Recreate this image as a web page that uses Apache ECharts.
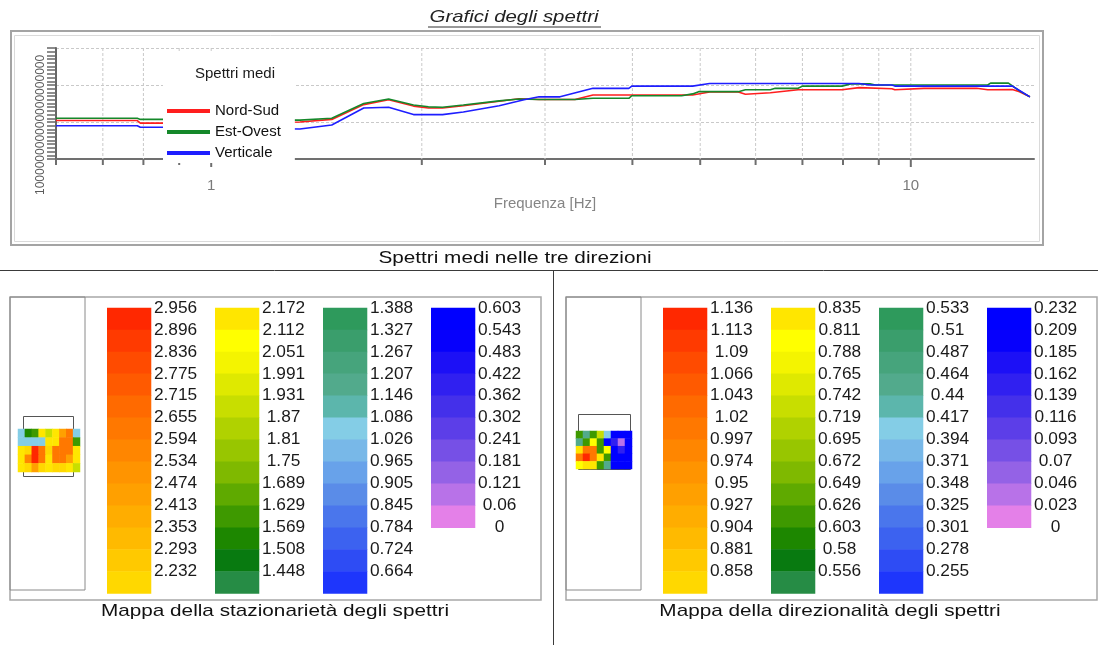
<!DOCTYPE html>
<html>
<head>
<meta charset="utf-8">
<title>Grafici degli spettri</title>
<script src="https://cdn.jsdelivr.net/npm/echarts@6.0.0/dist/echarts.min.js"></script>
<style>
  html, body { margin: 0; padding: 0; background: #fff; }
  #chart { width: 1098px; height: 645px; }
</style>
</head>
<body>
<div id="chart"></div>
<script>
// ---- Spettri medi: [frequenza Hz, ampiezza] ----
const nordSud = [
  [0.6, 1.04], [0.784, 1.04], [0.792, 0.97], [0.854, 0.97],
  [1.339, 1.00], [1.487, 1.07], [1.652, 1.47], [1.793, 1.60], [1.946, 1.43],
  [2.044, 1.38], [2.141, 1.38], [2.293, 1.44], [2.58, 1.56], [2.755, 1.63],
  [2.942, 1.61], [3.311, 1.61], [3.513, 1.73], [4.876, 1.73], [5.157, 1.81],
  [5.67, 1.81], [5.802, 1.75], [6.298, 1.79], [6.902, 1.87], [7.975, 1.87],
  [8.433, 1.93], [9.397, 1.90], [9.489, 1.87], [10.44, 1.91], [12.42, 1.91],
  [12.88, 1.87], [13.97, 1.88], [14.3, 1.82], [14.8, 1.68]
];
const estOvest = [
  [0.6, 1.10], [0.784, 1.10], [0.792, 1.07], [0.854, 1.07],
  [1.339, 1.05], [1.487, 1.10], [1.652, 1.50], [1.793, 1.62], [1.946, 1.46],
  [2.044, 1.41], [2.141, 1.40], [2.293, 1.46], [2.58, 1.57], [2.755, 1.62],
  [2.942, 1.61], [3.311, 1.61], [3.513, 1.64], [3.953, 1.64], [3.992, 1.71],
  [4.703, 1.71], [4.876, 1.76], [4.974, 1.82], [5.67, 1.82], [5.802, 1.87],
  [6.298, 1.87], [6.4, 1.91], [6.902, 1.91], [7.0, 1.97], [7.975, 1.97],
  [8.2, 2.03], [8.74, 2.03], [8.9, 2.00], [12.88, 2.00], [13.0, 2.05],
  [13.79, 2.05], [14.3, 1.84], [14.8, 1.68]
];
const verticale = [
  [0.6, 0.90], [0.784, 0.90], [0.792, 0.86], [0.854, 0.86],
  [1.339, 0.81], [1.487, 0.92], [1.652, 1.38], [1.793, 1.40], [1.946, 1.20],
  [2.141, 1.20], [2.293, 1.27], [2.58, 1.44], [2.8, 1.60], [2.942, 1.68],
  [3.152, 1.68], [3.513, 1.91], [3.953, 1.91], [3.992, 1.97], [4.876, 1.97],
  [5.157, 2.04], [8.433, 2.04], [8.74, 2.00], [9.397, 2.00], [9.489, 1.97],
  [13.97, 1.97], [14.3, 1.85], [14.8, 1.68]
];
const seriesNames = ['Nord-Sud', 'Est-Ovest', 'Verticale'];

// frequency ticks of the log axis (labels only on decades)
const freqTicks = [0.6, 0.7, 0.8, 0.9, 1, 2, 3, 4, 5, 6, 7, 8, 9, 10];

// ---- Scale di colore: valori delle soglie ----
const stationarityLevels = [
  2.956, 2.896, 2.836, 2.775, 2.715, 2.655, 2.594, 2.534, 2.474, 2.413, 2.353, 2.293, 2.232,
  2.172, 2.112, 2.051, 1.991, 1.931, 1.87, 1.81, 1.75, 1.689, 1.629, 1.569, 1.508, 1.448,
  1.388, 1.327, 1.267, 1.207, 1.146, 1.086, 1.026, 0.965, 0.905, 0.845, 0.784, 0.724, 0.664,
  0.603, 0.543, 0.483, 0.422, 0.362, 0.302, 0.241, 0.181, 0.121, 0.06, 0
];
const directionLevels = [
  1.136, 1.113, 1.09, 1.066, 1.043, 1.02, 0.997, 0.974, 0.95, 0.927, 0.904, 0.881, 0.858,
  0.835, 0.811, 0.788, 0.765, 0.742, 0.719, 0.695, 0.672, 0.649, 0.626, 0.603, 0.58, 0.556,
  0.533, 0.51, 0.487, 0.464, 0.44, 0.417, 0.394, 0.371, 0.348, 0.325, 0.301, 0.278, 0.255,
  0.232, 0.209, 0.185, 0.162, 0.139, 0.116, 0.093, 0.07, 0.046, 0.023, 0
];

// ---- Mappe (miniature) ----
const stationarityMap = [
  [1.05, 1.52, 1.62, 2.12, 1.92, 2.12, 2.45, 2.62, 1.05],
  [1.05, 1.08, 1.06, 1.05, 2.12, 2.15, 2.60, 2.62, 1.62],
  [2.12, 2.20, 2.93, 2.62, 2.20, 2.60, 2.62, 2.62, 2.12],
  [2.12, 2.55, 2.93, 2.62, 2.15, 2.60, 2.62, 2.45, 2.12],
  [2.12, 2.20, 2.45, 2.20, 2.12, 2.20, 2.20, 2.12, 1.92]
];
const directionMap = [
  [0.62, 0.46, 0.62, 0.74, 0.40, 0.22, 0.22, 0.22],
  [0.46, 0.62, 0.80, 0.62, 0.22, 0.15, 0.04, 0.22],
  [0.82, 1.00, 1.00, 0.62, 0.80, 0.22, 0.15, 0.22],
  [1.00, 1.12, 1.00, 0.82, 0.62, 0.22, 0.22, 0.22],
  [0.80, 0.82, 0.82, 0.62, 0.46, 0.22, 0.22, 0.22]
];

// colour of each band, from the top of the first column to the bottom of the last
const PALETTE = [
  '#ff2800', '#ff3a00', '#ff4b00', '#ff5a00', '#ff6a00', '#ff7800', '#ff8600',
  '#ff9400', '#ffa000', '#ffad00', '#ffba00', '#ffc900', '#ffd800',
  '#ffe600', '#ffff00', '#f4f400', '#dfe900', '#c8de00', '#b0d200', '#98c600',
  '#7fb900', '#5faa00', '#3e9900', '#1d8700', '#087a10', '#268c45',
  '#2e9a5c', '#3a9e6c', '#46a47c', '#52aa8c', '#5cb6ac', '#84cde6', '#78b8e8',
  '#68a2ea', '#5a8ce8', '#4a76ec', '#3c62f0', '#2e4cf4', '#1e36fc',
  '#0000ff', '#0600fc', '#1c10f6', '#3020f0', '#4430ea', '#5c3ee8', '#7650e6',
  '#9462e6', '#b872e8', '#e480e8'
];

const FONT = '"Liberation Sans", Arial, Helvetica, sans-serif';
const ROWS = 13;

function levelItems(levels) {
  return levels.map((v, k) => [Math.floor(k / ROWS), k % ROWS, v, k]);
}
function matrixItems(m) {
  const out = [];
  m.forEach((row, r) => row.forEach((v, c) => out.push([c, r, v])));
  return out;
}
function pieces(levels) {
  return PALETTE.map((color, k) => {
    const p = { lte: levels[k], color: color };
    if (k === PALETTE.length - 1) p.gte = levels[k + 1]; else p.gt = levels[k + 1];
    return p;
  });
}
function isDecade(v) {
  const l = Math.log10(v);
  return Math.abs(l - Math.round(l)) < 1e-6;
}

// colour bar: one band per level plus the level label on its upper edge
function makeBarRenderer(levels) {
  const last = levels.length - 1;
  return function (params, api) {
    const col = api.value(0), row = api.value(1), k = api.value(3);
    const p0 = api.coord([col, row]);
    const p1 = api.coord([col + 1, row + 1]);
    const pitch = p1[0] - p0[0];
    const bandW = pitch * 0.41;
    const children = [];
    if (k < last) {
      children.push({
        type: 'rect',
        shape: { x: p0[0], y: p0[1], width: bandW, height: p1[1] - p0[1] + 0.5 },
        style: { fill: api.visual('color') }
      });
    }
    children.push({
      type: 'text',
      x: p0[0] + bandW + pitch * 0.225,
      y: p0[1] + 0.5,
      scaleX: 1.08,
      style: {
        text: String(levels[k]),
        align: 'center', verticalAlign: 'middle',
        textAlign: 'center', textVerticalAlign: 'middle',
        fontSize: 16, fontFamily: FONT, fill: '#1a1a1a'
      }
    });
    return { type: 'group', children: children };
  };
}

// log-axis ticks and dashed vertical grid
function renderFreqTick(params, api) {
  const f = api.value(0);
  const base = api.coord([f, 0]);
  const top = api.coord([f, 3]);
  const len = isDecade(f) ? 8 : 6;
  const children = [{
    type: 'line',
    shape: { x1: base[0], y1: base[1], x2: base[0], y2: base[1] + len },
    style: { stroke: '#6e6e6e', lineWidth: 2 }
  }];
  if (f > 0.6) {
    children.unshift({
      type: 'line',
      shape: { x1: top[0], y1: top[1], x2: base[0], y2: base[1] },
      style: { stroke: '#c9c9c9', lineWidth: 1, lineDash: [3, 2] }
    });
  }
  return { type: 'group', children: children };
}

const chart = echarts.init(document.getElementById('chart'), null, { renderer: 'canvas' });

const option = {
  backgroundColor: '#ffffff',
  animation: false,
  textStyle: { fontFamily: FONT },
  title: [{
    text: 'Spettri medi', left: 190, top: 61,
    textStyle: { fontSize: 15, fontWeight: 'normal', color: '#1a1a1a', fontFamily: FONT }
  }],
  legend: {
    data: seriesNames,
    orient: 'vertical',
    left: 163, top: 52,
    backgroundColor: '#ffffff',
    padding: [51, 14, 2, 4],
    itemWidth: 43, itemHeight: 4, itemGap: 5,
    icon: 'rect',
    selectedMode: false,
    textStyle: { fontSize: 15, color: '#111', fontFamily: FONT, lineHeight: 16 }
  },
  grid: [
    { left: 56, width: 978, top: 48, height: 111 },
    { left: 107, width: 432, top: 307.7, height: 285.6 },
    { left: 663, width: 432, top: 307.7, height: 285.6 },
    { left: 18, top: 429, width: 62, height: 43 },
    { left: 576, top: 431, width: 56, height: 38 }
  ],
  xAxis: [
    {
      gridIndex: 0, type: 'log', logBase: 10, min: 0.6, max: 15,
      name: 'Frequenza [Hz]', nameLocation: 'middle', nameGap: 37,
      nameTextStyle: { color: '#858585', fontSize: 15, fontFamily: FONT },
      axisLine: { show: true, lineStyle: { color: '#707070', width: 2 } },
      axisTick: { show: false },
      splitLine: { show: false },
      axisLabel: {
        color: '#7a7a7a', fontSize: 15, margin: 19, fontFamily: FONT,
        formatter: v => (isDecade(v) ? String(Math.round(v)) : '')
      }
    },
    { gridIndex: 1, type: 'value', min: 0, max: 4, show: false },
    { gridIndex: 2, type: 'value', min: 0, max: 4, show: false },
    { gridIndex: 3, type: 'category', data: stationarityMap[0].map((_, i) => i), show: false },
    { gridIndex: 4, type: 'category', data: directionMap[0].map((_, i) => i), show: false }
  ],
  yAxis: [
    {
      gridIndex: 0, type: 'value', min: 0, max: 3, interval: 1,
      axisLabel: { show: false },
      axisLine: { show: true, lineStyle: { color: '#666', width: 2 } },
      axisTick: { show: true, length: 9, lineStyle: { color: '#666', width: 1.5 } },
      minorTick: { show: true, splitNumber: 10, length: 9, lineStyle: { color: '#6a6a6a', width: 1.5 } },
      splitLine: { show: true, lineStyle: { color: '#c9c9c9', type: [3, 2], width: 1 } }
    },
    { gridIndex: 1, type: 'value', min: 0, max: 13, inverse: true, show: false },
    { gridIndex: 2, type: 'value', min: 0, max: 13, inverse: true, show: false },
    { gridIndex: 3, type: 'category', data: stationarityMap.map((_, i) => i), inverse: true, show: false },
    { gridIndex: 4, type: 'category', data: directionMap.map((_, i) => i), inverse: true, show: false }
  ],
  visualMap: [
    { type: 'piecewise', show: false, dimension: 2, seriesIndex: [4, 6], pieces: pieces(stationarityLevels) },
    { type: 'piecewise', show: false, dimension: 2, seriesIndex: [5, 7], pieces: pieces(directionLevels) }
  ],
  series: [
    {
      name: seriesNames[0], type: 'line', xAxisIndex: 0, yAxisIndex: 0,
      data: nordSud, showSymbol: false, color: '#ff1e1e',
      lineStyle: { width: 1.6, color: '#ff1e1e' }
    },
    {
      name: seriesNames[1], type: 'line', xAxisIndex: 0, yAxisIndex: 0,
      data: estOvest, showSymbol: false, color: '#15882a',
      lineStyle: { width: 1.6, color: '#15882a' }
    },
    {
      name: seriesNames[2], type: 'line', xAxisIndex: 0, yAxisIndex: 0,
      data: verticale, showSymbol: false, color: '#1e1eff',
      lineStyle: { width: 1.6, color: '#1e1eff' }
    },
    {
      type: 'custom', xAxisIndex: 0, yAxisIndex: 0, z: 1, silent: true,
      data: freqTicks.map(f => [f, 0]),
      renderItem: renderFreqTick
    },
    {
      type: 'custom', xAxisIndex: 1, yAxisIndex: 1, silent: true,
      data: levelItems(stationarityLevels),
      renderItem: makeBarRenderer(stationarityLevels)
    },
    {
      type: 'custom', xAxisIndex: 2, yAxisIndex: 2, silent: true,
      data: levelItems(directionLevels),
      renderItem: makeBarRenderer(directionLevels)
    },
    {
      type: 'heatmap', xAxisIndex: 3, yAxisIndex: 3, silent: true,
      data: matrixItems(stationarityMap)
    },
    {
      type: 'heatmap', xAxisIndex: 4, yAxisIndex: 4, silent: true,
      data: matrixItems(directionMap)
    }
  ],
  graphic: [
    // page title with underline
    {
      type: 'text', x: 514, y: 17, scaleX: 1.2,
      style: {
        text: 'Grafici degli spettri', fontSize: 17, fontStyle: 'italic', fontFamily: FONT,
        fill: '#222', align: 'center', verticalAlign: 'middle',
        textAlign: 'center', textVerticalAlign: 'middle'
      }
    },
    { type: 'line', shape: { x1: 428, y1: 27, x2: 601, y2: 27 }, style: { stroke: '#333', lineWidth: 1 } },
    // frame of the spectra chart
    { type: 'rect', shape: { x: 11, y: 31, width: 1032, height: 214 }, style: { fill: null, stroke: '#a4a4a4', lineWidth: 2 } },
    { type: 'rect', shape: { x: 14.5, y: 35.5, width: 1025, height: 206 }, style: { fill: null, stroke: '#dadada', lineWidth: 1 } },
    // stacked amplitude labels of the y axis
    {
      type: 'text', x: 41, y: 195, rotation: Math.PI / 2,
      style: {
        text: '1' + '0'.repeat(20), fontSize: 12, fontFamily: FONT, fill: '#5a5a5a',
        align: 'left', verticalAlign: 'middle', textAlign: 'left', textVerticalAlign: 'middle'
      }
    },
    {
      type: 'text', x: 515, y: 258, scaleX: 1.22,
      style: {
        text: 'Spettri medi nelle tre direzioni', fontSize: 17, fontFamily: FONT, fill: '#111',
        align: 'center', verticalAlign: 'middle', textAlign: 'center', textVerticalAlign: 'middle'
      }
    },
    // separators between the panels
    { type: 'line', shape: { x1: 0, y1: 270.5, x2: 1098, y2: 270.5 }, style: { stroke: '#3a3a3a', lineWidth: 1 } },
    { type: 'line', shape: { x1: 553.5, y1: 270, x2: 553.5, y2: 645 }, style: { stroke: '#3a3a3a', lineWidth: 1 } },
    // left panel frames
    { type: 'rect', shape: { x: 10, y: 297, width: 531, height: 303 }, style: { fill: null, stroke: '#a8a8a8', lineWidth: 1.5 } },
    { type: 'rect', shape: { x: 10, y: 297, width: 75, height: 293 }, style: { fill: null, stroke: '#8a8a8a', lineWidth: 1 } },
    { type: 'rect', shape: { x: 23.5, y: 416.5, width: 50, height: 60 }, style: { fill: '#fff', stroke: '#555', lineWidth: 1 } },
    // right panel frames
    { type: 'rect', shape: { x: 566, y: 297, width: 531, height: 303 }, style: { fill: null, stroke: '#a8a8a8', lineWidth: 1.5 } },
    { type: 'rect', shape: { x: 566, y: 297, width: 75, height: 293 }, style: { fill: null, stroke: '#8a8a8a', lineWidth: 1 } },
    { type: 'rect', shape: { x: 578.5, y: 414.5, width: 52, height: 55 }, style: { fill: '#fff', stroke: '#555', lineWidth: 1 } },
    // panel captions
    {
      type: 'text', x: 275, y: 611, scaleX: 1.22,
      style: {
        text: 'Mappa della stazionarietà degli spettri', fontSize: 17, fontFamily: FONT, fill: '#111',
        align: 'center', verticalAlign: 'middle', textAlign: 'center', textVerticalAlign: 'middle'
      }
    },
    {
      type: 'text', x: 830, y: 611, scaleX: 1.22,
      style: {
        text: 'Mappa della direzionalità degli spettri', fontSize: 17, fontFamily: FONT, fill: '#111',
        align: 'center', verticalAlign: 'middle', textAlign: 'center', textVerticalAlign: 'middle'
      }
    }
  ]
};

chart.setOption(option);
</script>
</body>
</html>
